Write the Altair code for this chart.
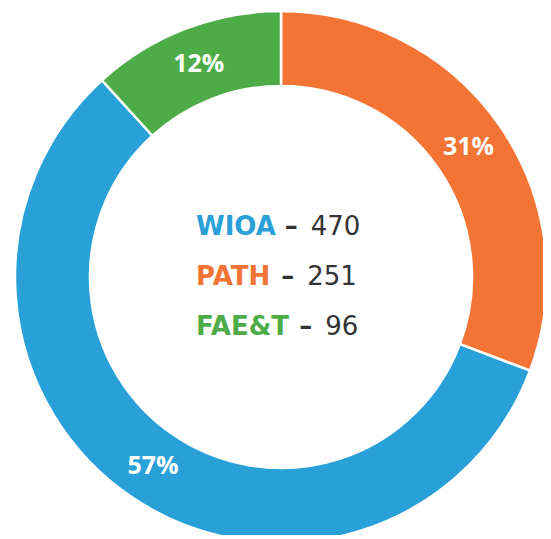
import altair as alt
import pandas as pd

# ---- data ----
programs = ["PATH", "WIOA", "FAE&T"]          # clockwise from 12 o'clock
counts = [251, 470, 96]
pct_labels = ["31%", "57%", "12%"]
colors = ["#F37435", "#29A1D8", "#4DAC47"]
legend_order = ["WIOA", "PATH", "FAE&T"]     # order of the centre text

# ---- helpers ----
# approximate advance widths (em) of DejaVu Sans Bold, used to place
# the dash and value just after the bold coloured name
BOLD_EM = {"A": 0.774, "E": 0.683, "F": 0.626, "H": 0.74, "I": 0.372,
           "O": 0.850, "P": 0.70, "T": 0.680, "W": 1.029, "&": 0.82}
NAME_SIZE = 26
TEXT_X = 188


def text_width(s, size):
    return sum(BOLD_EM.get(c, 0.7) for c in s) * size


df = pd.DataFrame({"program": programs, "count": counts,
                   "pct": pct_labels, "idx": list(range(len(programs)))})

lookup = dict(zip(programs, counts))
dash_x = [TEXT_X + text_width(p, NAME_SIZE) + 10 for p in legend_order]
leg = pd.DataFrame({
    "program": legend_order,
    "value": [str(lookup[p]) for p in legend_order],
    "dash": ["\u2013"] * len(legend_order),
    "dx": dash_x,
    "vx": [d + 26 for d in dash_x],
})

color_scale = alt.Scale(domain=programs, range=colors)
CX, CY = 273, 269

base = alt.Chart(df).encode(
    theta=alt.Theta("count:Q", stack=True),
    order=alt.Order("idx:Q"),
)

ring = base.mark_arc(radius=266, innerRadius=191, stroke="white",
                     strokeWidth=2.5).encode(
    color=alt.Color("program:N", scale=color_scale, legend=None),
    x=alt.value(CX), y=alt.value(CY),
)

pcts = base.mark_text(radius=228, font="Open Sans", fontWeight="bold",
                      fontSize=25, color="white").encode(
    text="pct:N", x=alt.value(CX), y=alt.value(CY),
)

row_y = alt.Y("program:N", sort=legend_order,
              scale=alt.Scale(type="point", range=[227, 327], padding=0),
              axis=None)

names = alt.Chart(leg).mark_text(
    align="left", baseline="alphabetic", font="DejaVu Sans",
    fontWeight="bold", fontSize=NAME_SIZE).encode(
    x=alt.value(TEXT_X), y=row_y, text="program:N",
    color=alt.Color("program:N", scale=color_scale, legend=None),
)

dashes = alt.Chart(leg).mark_text(
    align="left", baseline="alphabetic", font="DejaVu Sans",
    fontWeight="bold", fontSize=NAME_SIZE, color="#333333").encode(
    x=alt.X("dx:Q", scale=None, axis=None), y=row_y, text="dash:N",
)

values = alt.Chart(leg).mark_text(
    align="left", baseline="alphabetic", font="DejaVu Sans",
    fontSize=NAME_SIZE, color="#333333").encode(
    x=alt.X("vx:Q", scale=None, axis=None), y=row_y, text="value:N",
)

chart = alt.layer(ring, pcts, names, dashes, values).properties(
    width=535, height=527,
    autosize=alt.AutoSizeParams(type="none"),
    padding=0, background="white",
).configure_view(stroke=None)

chart.save("out.html", embed_options={"renderer": "svg", "actions": False})
